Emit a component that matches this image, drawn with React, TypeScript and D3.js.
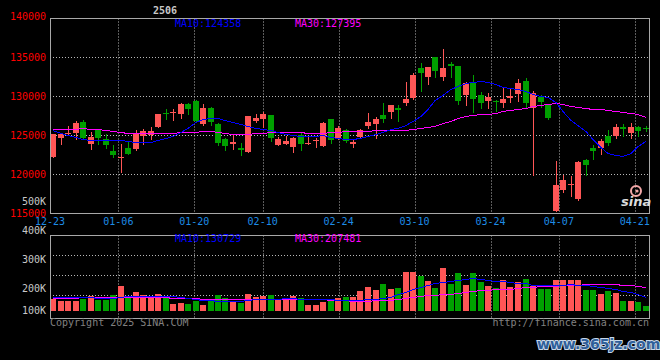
import React from 'react';
import * as d3 from 'd3';

// ---------- data ----------
const dates = [
  '12-23','12-24','12-25','12-26','12-27','12-30','12-31','01-02','01-03',
  '01-06','01-07','01-08','01-09','01-10','01-13','01-14','01-15','01-16','01-17',
  '01-20','01-21','01-22','01-23','01-24','01-27','02-05','02-06','02-07',
  '02-10','02-11','02-12','02-13','02-14','02-17','02-18','02-19','02-20','02-21',
  '02-24','02-25','02-26','02-27','02-28','03-03','03-04','03-05','03-06','03-07',
  '03-10','03-11','03-12','03-13','03-14','03-17','03-18','03-19','03-20','03-21',
  '03-24','03-25','03-26','03-27','03-28','03-31','04-01','04-02','04-03',
  '04-07','04-08','04-09','04-10','04-11','04-14','04-15','04-16','04-17','04-18',
  '04-21','04-22','04-23'
];

const open = [
  122260,124700,125210,125340,126710,123930,125680,124530,123030,122140,
  123460,123330,124910,125040,126070,127910,127860,127730,129020,129440,
  126450,128500,126450,124490,123890,123420,122910,126840,127090,127610,
  123760,123930,123500,125040,123970,124320,123630,127090,124740,125680,
  123970,124790,126280,126500,127610,128000,128500,129150,129870,133630,
  132480,135000,132520,134230,133930,130170,131880,130170,129400,129400,
  129190,129790,130380,131970,128550,129960,129100,115340,117990,118670,
  116840,121840,123460,123460,124960,124960,126030,125340,126030,125940
];
const high = [
  125130,125130,126200,126840,126970,125430,125770,125130,123720,123970,
  124190,125680,125770,126030,127730,128460,128460,129190,129190,129530,
  129020,128590,126620,124700,125080,124020,127480,127730,127990,127610,
  124830,124960,124870,125260,124910,124740,126710,127090,126280,125850,
  124490,125770,127860,127310,129190,128890,128850,131840,132990,134320,
  133760,135000,136070,134400,133930,131880,132740,130640,130470,129490,
  131030,131150,132180,132390,130730,130130,129100,121710,120000,119790,
  121710,122010,123720,124490,125680,126450,126450,126580,126200,126200
];
const low = [
  122260,123970,125040,124490,124660,123290,123850,123420,122180,120340,
  122650,123120,123850,124530,126070,127090,127050,127260,127820,126840,
  126370,126320,123760,123120,123250,122480,122910,126670,126030,124320,
  123720,123930,122910,123160,123970,123550,123630,124020,124570,124230,
  123550,124740,125900,124740,126710,127220,126840,128890,129660,130730,
  131540,132480,132090,132440,129100,128850,128030,128500,128500,128120,
  128670,129270,129440,128670,119910,128670,127090,115340,117780,117220,
  116750,119960,122010,122610,123800,124740,124960,124700,124960,125600
];
const close = [
  125130,125130,125300,126580,124660,124790,124740,123800,122480,122260,
  122650,125260,125550,125550,127730,127730,128030,129020,128380,126840,
  128500,126710,124020,123630,124140,123160,127480,127220,127730,124700,
  124530,124270,124660,123850,124020,124440,126580,124400,125940,124320,
  124140,125680,126710,127090,127140,128890,128330,129660,132780,132990,
  133760,133250,133680,133930,129400,131670,129660,129150,129960,129320,
  129620,130040,131710,129150,130430,129320,127220,118630,119270,118840,
  121540,121200,123030,124270,124060,126030,125770,126030,125600,125770
];
const volume = [
  164480,158620,159650,158620,165510,175860,162070,162070,178160,210340,
  170110,189660,178160,168970,182760,167820,148280,150570,148280,158620,
  144820,162070,178160,168970,156320,151720,182760,172410,175860,178160,
  163220,166670,175860,167820,144820,144820,156320,158620,168970,172410,
  173450,193100,206890,196550,217240,201030,203450,258620,258620,244830,
  227590,203450,272400,217240,255170,213790,255170,224140,210340,203450,
  231020,206890,224140,234470,210340,200000,200000,231020,231020,231020,
  231020,196550,196550,182760,193100,186200,158620,158620,155170,141380
];
const ma10 = [
  125680,125380,125080,124790,124570,124440,124400,124400,124400,124360,
  124320,124230,124190,124190,124400,124660,125000,125470,126020,126710,
  127140,127220,127180,127050,126790,126490,126200,125980,125850,125680,
  125430,125210,125080,125000,125000,125000,125040,124830,124660,124530,
  124570,124740,124960,125170,125470,125770,126020,126370,126880,127480,
  128460,129530,130170,130900,131370,131670,131880,131970,131880,131580,
  131240,131110,130940,130730,130380,130040,129910,129320,128080,127050,
  126320,125600,124490,123550,122780,122480,122310,122780,123630,124358
];
const ma30 = [
  125770,125770,125770,125810,125900,125850,125770,125680,125600,125510,
  125340,125300,125260,125260,125300,125340,125380,125430,125470,125510,
  125550,125550,125470,125300,125170,125170,125210,125260,125380,125470,
  125470,125470,125430,125430,125380,125380,125380,125430,125510,125600,
  125600,125640,125640,125680,125680,125680,125680,125680,125850,125900,
  126150,126200,126540,126920,127220,127480,127650,127730,127820,127900,
  128080,128290,128420,128550,128720,128890,129060,129190,129020,128720,
  128590,128500,128420,128380,128290,128160,127990,127860,127730,127395
];
const volMa10 = [
  173580,173580,173580,173580,172430,171280,170140,170140,170140,173580,
  174730,174730,174730,174730,174730,175880,174730,173580,168990,164390,
  160940,160940,159790,158640,158640,158640,160940,164390,164390,164390,
  165540,167840,167840,166690,164390,164390,164390,164390,163240,162090,
  162090,163240,164390,166690,168990,173580,182780,190820,198870,206910,
  213810,219560,223000,226450,229900,233350,236790,235650,232200,228750,
  226450,223000,221850,219560,213810,212660,212660,212660,213810,216110,
  214960,213810,210360,206910,202320,198870,194270,188520,182780,173580
];
const volMa30 = [
  167840,167840,168990,170140,171280,171280,171280,171280,171280,171280,
  171280,171280,171280,171280,171280,171280,170140,168990,167840,167840,
  166690,166690,166690,166690,166690,166690,166690,166690,166690,166690,
  166690,166690,166690,166690,165540,165540,164390,163240,162090,160940,
  159790,159790,159790,160940,162090,163240,165540,168990,172430,174730,
  178180,180480,181630,183930,186230,189670,193120,196570,197720,198870,
  200020,201170,203460,206910,208060,209210,210360,211510,213810,214960,
  214960,216110,216110,216110,216110,216110,214960,212660,210360,207481
];
const volLegend = [130729, 207481];

const priceTicks = [115000, 120000, 125000, 130000, 135000, 140000];
const volTicks = [100000, 200000, 300000, 400000, 500000];
const tickDates = ['12-23', '01-06', '01-20', '02-10', '02-24', '03-10', '03-24', '04-07', '04-21'];
const title = '2506';

// ---------- styles ----------
const RED = '#ff5656';
const GREEN = '#00a000';
const BLUE = '#0000ff';
const MAGENTA = '#ff00ff';
const GRID = '#b8b8b8';
const BORDER = '#a8a8a8';
const MONO = '"DejaVu Sans Mono", "Liberation Mono", monospace';

export default function App() {
  const N = dates.length;
  const xs = d3.scaleLinear().domain([0, N]).range([50, 650]);
  const xg = d3.scalePoint<string>().domain(dates).range([50, 650]);
  const yP = d3.scaleLinear().domain([115000, 140000]).range([213.5, 18.5]);
  const yV = d3.scaleLinear().domain([100000, 400000]).range([318, 231]);

  const px = (i: number) => Math.round(xs(i));
  const lineX = (_: number, i: number) => px(i) + 3;

  const priceLine = (arr: number[]) =>
    d3.line<number>().x(lineX).y((d) => Math.round(yP(d)) + 0.5)(arr) || '';
  const volLine = (arr: number[]) =>
    d3.line<number>().x(lineX).y((d) => Math.round(yV(d)) + 0.5)(arr) || '';

  const gx = (d: string) => Math.round(xg(d) as number) + 0.5;
  const barBase = 311;

  return (
    <svg
      width={660}
      height={360}
      style={{ position: 'absolute', left: 0, top: 0, background: '#000', display: 'block' }}
    >
      <rect x={0} y={0} width={660} height={360} fill="#000" />

      {/* title */}
      <text x={165} y={13.5} fill="#c8c8c8" fontFamily={MONO} fontSize={10} fontWeight="bold" textAnchor="middle">
        {title}
      </text>

      {/* ---------- price panel grid ---------- */}
      {priceTicks.slice(1, -1).map((t) => (
        <line key={'hp' + t} x1={50} x2={650} y1={yP(t)} y2={yP(t)} stroke={GRID} strokeDasharray="1 2" />
      ))}
      {tickDates.slice(1).map((d) => (
        <line key={'vp' + d} x1={gx(d)} x2={gx(d)} y1={18.5} y2={213.5} stroke={GRID} strokeDasharray="1 2" />
      ))}
      {/* volume panel grid */}
      {[1, 2, 3].map((k) => (
        <line key={'hv' + k} x1={50} x2={650} y1={235.5 + k * 20} y2={235.5 + k * 20} stroke={GRID} strokeDasharray="1 2" />
      ))}
      {tickDates.slice(1).map((d) => (
        <line key={'vv' + d} x1={gx(d)} x2={gx(d)} y1={235.5} y2={318.5} stroke={GRID} strokeDasharray="1 2" />
      ))}

      {/* ---------- candles ---------- */}
      {dates.map((d, i) => {
        const o = open[i], c = close[i], h = high[i], l = low[i];
        const up = c >= o;
        const col = up ? RED : GREEN;
        const yTop = Math.round(yP(Math.max(o, c)));
        const yBot = Math.round(yP(Math.min(o, c)));
        const yH = Math.round(yP(h));
        const yL = Math.round(yP(l));
        return (
          <g key={'c' + d}>
            <rect x={px(i) + 3} y={yH} width={1} height={Math.max(1, yL - yH + 1)} fill={col} />
            <rect x={px(i)} y={yTop} width={6} height={Math.max(1, yBot - yTop)} fill={col} />
          </g>
        );
      })}

      {/* price MAs */}
      <path d={priceLine(ma30)} fill="none" stroke={MAGENTA} strokeWidth={1} shapeRendering="crispEdges" />
      <path d={priceLine(ma10)} fill="none" stroke={BLUE} strokeWidth={1} shapeRendering="crispEdges" />

      {/* ---------- volume bars ---------- */}
      {dates.map((d, i) => {
        const up = close[i] >= open[i];
        const y = Math.round(yV(volume[i]));
        return <rect key={'v' + d} x={px(i)} y={y} width={6} height={barBase - y} fill={up ? RED : GREEN} />;
      })}
      <path d={volLine(volMa30)} fill="none" stroke={MAGENTA} strokeWidth={1} shapeRendering="crispEdges" />
      <path d={volLine(volMa10)} fill="none" stroke={BLUE} strokeWidth={1} shapeRendering="crispEdges" />

      {/* ---------- frames ---------- */}
      <rect x={50.5} y={18.5} width={599} height={195} fill="none" stroke={BORDER} />
      <rect x={50.5} y={235.5} width={599} height={83} fill="none" stroke={BORDER} />

      {/* sina logo */}
      <g>
        <circle cx={636} cy={191} r={5} fill="none" stroke="#f4a8a8" strokeWidth={2} />
        <circle cx={637} cy={191} r={1.6} fill="#f4a8a8" />
        <text x={621} y={206} fill="#dcdcdc" fontFamily="'DejaVu Sans', sans-serif" fontSize={13} fontStyle="italic" fontWeight="bold">
          sina
        </text>
      </g>

      {/* price labels */}
      {priceTicks.map((t) => (
        <text key={'pl' + t} x={46} y={yP(t) + (t === 140000 ? 1 : 3)} fill="#ff0000" fontFamily={MONO} fontSize={10} textAnchor="end">
          {t}
        </text>
      ))}
      {/* volume labels */}
      {volTicks.map((t) => (
        <text key={'vl' + t} x={46} y={Math.min(yV(t), 310.5) + 3} fill="#c8c8c8" fontFamily={MONO} fontSize={10} textAnchor="end">
          {t / 1000 + 'K'}
        </text>
      ))}
      {/* date labels */}
      {tickDates.map((d) => (
        <text key={'dl' + d} x={xg(d)} y={225} fill="#1e8ce6" fontFamily={MONO} fontSize={10} textAnchor="middle">
          {d}
        </text>
      ))}

      {/* legends */}
      <text x={175} y={27} fill={BLUE} fontFamily={MONO} fontSize={10}>{'MA10:' + ma10[N - 1]}</text>
      <text x={295} y={27} fill={MAGENTA} fontFamily={MONO} fontSize={10}>{'MA30:' + ma30[N - 1]}</text>
      <text x={175} y={242} fill={BLUE} fontFamily={MONO} fontSize={10}>{'MA10:' + volLegend[0]}</text>
      <text x={295} y={242} fill={MAGENTA} fontFamily={MONO} fontSize={10}>{'MA30:' + volLegend[1]}</text>

      {/* footer */}
      <text x={50} y={326} fill="#808080" fontFamily={MONO} fontSize={10}>Copyright 2025 SINA.COM</text>
      <text x={649} y={326} fill="#808080" fontFamily={MONO} fontSize={10} textAnchor="end">http://finance.sina.com.cn</text>

      {/* watermark */}
      <text
        x={537}
        y={349}
        fill="#2f5f9a"
        stroke="#c8d8ea"
        strokeWidth={2}
        paintOrder="stroke"
        fontFamily="'DejaVu Sans', sans-serif"
        fontWeight="bold"
        fontSize={14}
      >
        www.365jz.com
      </text>
    </svg>
  );
}
